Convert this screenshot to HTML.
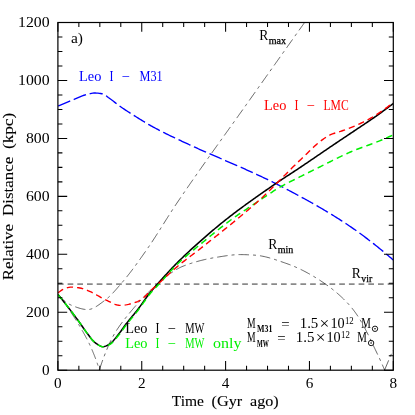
<!DOCTYPE html>
<html><head><meta charset="utf-8"><title>Leo I orbit</title>
<style>
html,body{margin:0;padding:0;background:#fff;}
svg{display:block;will-change:transform;}
.sans text{font-family:"Liberation Serif",serif;font-size:14px;fill:#000;}
.ser text{font-family:"Liberation Serif",serif;}
</style></head><body>
<svg width="415" height="415" viewBox="0 0 415 415">
<rect width="415" height="415" fill="#fff"/>
<defs><clipPath id="c"><rect x="57.9" y="22.5" width="335.40000000000003" height="347.7"/></clipPath></defs>
<g clip-path="url(#c)" fill="none">
<path d="M57.9 284.0 H393.3" stroke="#8a8a8a" stroke-width="1.75" stroke-dasharray="5.7 4"/>
<g stroke="#000" stroke-width="0.6" stroke-dasharray="10.5 4 3 4">
<path d="M58.00 294.50 L58.93 295.56 L59.87 296.59 L60.84 297.59 L61.83 298.56 L62.83 299.49 L63.86 300.39 L64.90 301.24 L65.96 302.04 L67.03 302.80 L68.12 303.51 L69.23 304.16 L70.36 304.75 L71.49 305.28 L72.65 305.77 L73.85 306.25 L75.09 306.72 L76.37 307.19 L77.67 307.64 L78.98 308.06 L80.31 308.45 L81.64 308.79 L82.96 309.09 L84.28 309.32 L85.57 309.49 L86.83 309.58 L88.07 309.59 L89.30 309.46 L90.52 309.18 L91.75 308.79 L92.97 308.29 L94.19 307.70 L95.39 307.03 L96.59 306.30 L97.77 305.52 L98.93 304.71 L100.07 303.88 L101.20 303.05 L102.30 302.24 L103.37 301.45 L104.42 300.70 L105.44 299.93 L106.45 299.12 L107.45 298.28 L108.43 297.41 L109.40 296.52 L110.35 295.60 L111.30 294.66 L112.23 293.70 L113.15 292.72 L114.06 291.73 L114.96 290.72 L115.86 289.71 L116.75 288.70 L117.63 287.68 L118.50 286.66 L119.38 285.65 L120.24 284.64 L121.11 283.64 L121.97 282.64 L122.83 281.64 L123.68 280.63 L124.52 279.62 L125.36 278.60 L126.20 277.58 L127.03 276.55 L127.85 275.51 L128.67 274.47 L129.49 273.43 L130.30 272.38 L131.11 271.33 L131.91 270.27 L132.71 269.21 L133.51 268.15 L134.30 267.09 L135.09 266.02 L135.88 264.95 L136.66 263.87 L137.44 262.80 L138.22 261.72 L138.99 260.64 L139.76 259.56 L140.53 258.48 L141.30 257.39 L142.07 256.31 L142.83 255.22 L143.60 254.14 L144.36 253.06 L145.12 251.97 L145.88 250.89 L146.64 249.80 L147.39 248.72 L148.14 247.63 L148.89 246.54 L149.63 245.44 L150.37 244.35 L151.11 243.25 L151.84 242.15 L152.57 241.04 L153.30 239.93 L154.02 238.82 L154.74 237.71 L155.46 236.60 L156.18 235.49 L156.89 234.37 L157.60 233.25 L158.31 232.14 L159.02 231.02 L159.73 229.90 L160.44 228.78 L161.15 227.65 L161.85 226.53 L162.56 225.41 L163.26 224.29 L163.97 223.16 L164.67 222.04 L165.38 220.92 L166.09 219.80 L166.80 218.68 L167.50 217.56 L168.21 216.44 L168.92 215.32 L169.64 214.20 L170.35 213.08 L171.07 211.97 L171.79 210.86 L172.51 209.74 L173.23 208.63 L173.96 207.53 L174.69 206.42 L175.42 205.32 L176.15 204.22 L176.89 203.12 L177.63 202.02 L178.37 200.92 L179.11 199.83 L179.86 198.73 L180.60 197.63 L181.34 196.54 L182.09 195.44 L182.83 194.35 L183.58 193.26 L184.33 192.16 L185.08 191.07 L185.83 189.98 L186.58 188.89 L187.33 187.80 L188.08 186.71 L188.83 185.62 L189.59 184.53 L190.34 183.44 L191.09 182.35 L191.85 181.27 L192.61 180.18 L193.36 179.09 L194.12 178.00 L194.88 176.92 L195.64 175.83 L196.40 174.75 L197.16 173.66 L197.92 172.58 L198.68 171.49 L199.44 170.41 L200.20 169.33 L200.96 168.24 L201.73 167.16 L202.49 166.08 L203.25 165.00 L204.02 163.92 L204.78 162.83 L205.55 161.75 L206.32 160.67 L207.08 159.59 L207.85 158.51 L208.62 157.43 L209.38 156.35 L210.15 155.27 L210.92 154.19 L211.69 153.11 L212.46 152.03 L213.22 150.95 L213.99 149.88 L214.76 148.80 L215.53 147.72 L216.30 146.64 L217.07 145.56 L217.84 144.48 L218.61 143.41 L219.38 142.33 L220.15 141.25 L220.93 140.17 L221.70 139.10 L222.47 138.02 L223.24 136.94 L224.01 135.86 L224.78 134.79 L225.55 133.71 L226.32 132.63 L227.10 131.55 L227.87 130.48 L228.64 129.40 L229.41 128.32 L230.18 127.25 L230.95 126.17 L231.72 125.09 L232.50 124.01 L233.27 122.94 L234.04 121.86 L234.81 120.78 L235.58 119.70 L236.35 118.62 L237.12 117.55 L237.89 116.47 L238.66 115.39 L239.43 114.31 L240.20 113.23 L240.97 112.15 L241.74 111.08 L242.50 110.00 L243.27 108.92 L244.04 107.84 L244.81 106.76 L245.57 105.68 L246.34 104.60 L247.11 103.52 L247.87 102.44 L248.64 101.36 L249.41 100.28 L250.17 99.19 L250.94 98.11 L251.70 97.03 L252.47 95.95 L253.23 94.87 L254.00 93.79 L254.76 92.71 L255.53 91.63 L256.29 90.54 L257.06 89.46 L257.82 88.38 L258.59 87.30 L259.35 86.22 L260.12 85.14 L260.88 84.06 L261.65 82.98 L262.42 81.90 L263.18 80.82 L263.95 79.74 L264.71 78.65 L265.48 77.57 L266.25 76.49 L267.01 75.41 L267.78 74.33 L268.54 73.25 L269.31 72.17 L270.08 71.09 L270.84 70.01 L271.61 68.93 L272.37 67.85 L273.14 66.77 L273.91 65.69 L274.67 64.61 L275.44 63.53 L276.21 62.45 L276.97 61.37 L277.74 60.29 L278.51 59.21 L279.27 58.13 L280.04 57.05 L280.81 55.97 L281.57 54.89 L282.34 53.81 L283.11 52.73 L283.88 51.65 L284.64 50.57 L285.41 49.49 L286.18 48.41 L286.94 47.33 L287.71 46.25 L288.48 45.17 L289.25 44.09 L290.01 43.01 L290.78 41.93 L291.55 40.85 L292.32 39.77 L293.08 38.69 L293.85 37.61 L294.62 36.53 L295.39 35.45 L296.15 34.37 L296.92 33.29 L297.69 32.21 L298.46 31.13 L299.22 30.05 L299.99 28.98 L300.76 27.90 L301.53 26.82 L302.30 25.74 L303.06 24.66 L303.83 23.58 L304.60 22.50"/>
<path d="M58.00 294.50 L58.18 294.73 L58.36 294.96 L58.54 295.19 L58.72 295.42 L58.90 295.64 L59.08 295.87 L59.26 296.10 L59.44 296.33 L59.62 296.56 L59.80 296.79 L59.98 297.02 L60.16 297.25 L60.33 297.49 L60.51 297.72 L60.69 297.95 L60.87 298.18 L61.04 298.41 L61.22 298.64 L61.39 298.87 L61.57 299.11 L61.75 299.34 L61.92 299.57 L62.10 299.80 L62.27 300.04 L62.44 300.27 L62.62 300.50 L62.79 300.74 L62.97 300.97 L63.14 301.20 L63.31 301.44 L63.48 301.67 L63.66 301.90 L63.83 302.14 L64.00 302.37 L64.17 302.61 L64.34 302.84 L64.51 303.08 L64.69 303.31 L64.86 303.55 L65.03 303.78 L65.20 304.02 L65.37 304.25 L65.53 304.49 L65.70 304.73 L65.87 304.96 L66.04 305.20 L66.21 305.44 L66.38 305.67 L66.55 305.91 L66.71 306.15 L66.88 306.38 L67.05 306.62 L67.21 306.86 L67.38 307.10 L67.55 307.33 L67.71 307.57 L67.88 307.81 L68.04 308.05 L68.21 308.29 L68.37 308.52 L68.54 308.76 L68.70 309.00 L68.87 309.24 L69.03 309.48 L69.19 309.72 L69.36 309.96 L69.52 310.20 L69.68 310.44 L69.85 310.68 L70.01 310.92 L70.17 311.16 L70.33 311.40 L70.49 311.64 L70.66 311.88 L70.82 312.12 L70.98 312.36 L71.14 312.60 L71.30 312.84 L71.46 313.08 L71.62 313.33 L71.78 313.57 L71.94 313.81 L72.10 314.05 L72.25 314.29 L72.41 314.54 L72.57 314.78 L72.73 315.02 L72.89 315.26 L73.05 315.51 L73.20 315.75 L73.36 315.99 L73.52 316.23 L73.67 316.48 L73.83 316.72 L73.99 316.96 L74.14 317.21 L74.30 317.45 L74.45 317.70 L74.61 317.94 L74.76 318.18 L74.92 318.43 L75.07 318.67 L75.23 318.92 L75.38 319.16 L75.53 319.41 L75.69 319.65 L75.84 319.89 L76.00 320.14 L76.15 320.38 L76.30 320.63 L76.45 320.88 L76.61 321.12 L76.76 321.37 L76.91 321.61 L77.06 321.86 L77.21 322.10 L77.36 322.35 L77.51 322.60 L77.67 322.84 L77.82 323.09 L77.97 323.34 L78.12 323.58 L78.27 323.83 L78.42 324.08 L78.56 324.32 L78.71 324.57 L78.86 324.82 L79.01 325.06 L79.16 325.31 L79.31 325.56 L79.46 325.81 L79.60 326.05 L79.75 326.30 L79.90 326.55 L80.05 326.80 L80.19 327.05 L80.34 327.29 L80.49 327.54 L80.63 327.79 L80.78 328.04 L80.92 328.29 L81.07 328.54 L81.22 328.79 L81.36 329.03 L81.51 329.28 L81.65 329.53 L81.80 329.78 L81.94 330.03 L82.09 330.28 L82.23 330.53 L82.37 330.78 L82.52 331.03 L82.66 331.28 L82.80 331.53 L82.95 331.78 L83.09 332.03 L83.23 332.28 L83.38 332.53 L83.52 332.78 L83.66 333.04 L83.80 333.29 L83.94 333.54 L84.09 333.79 L84.23 334.04 L84.37 334.30 L84.51 334.55 L84.65 334.80 L84.79 335.06 L84.93 335.31 L85.07 335.57 L85.21 335.82 L85.35 336.07 L85.49 336.33 L85.63 336.58 L85.76 336.84 L85.90 337.09 L86.04 337.35 L86.18 337.61 L86.31 337.86 L86.45 338.12 L86.58 338.38 L86.72 338.63 L86.86 338.89 L86.99 339.15 L87.12 339.40 L87.26 339.66 L87.39 339.92 L87.52 340.18 L87.66 340.44 L87.79 340.70 L87.92 340.95 L88.05 341.21 L88.18 341.47 L88.31 341.73 L88.44 341.99 L88.57 342.25 L88.70 342.51 L88.83 342.77 L88.95 343.03 L89.08 343.29 L89.21 343.55 L89.33 343.81 L89.46 344.08 L89.58 344.34 L89.71 344.60 L89.83 344.86 L89.95 345.12 L90.07 345.38 L90.19 345.65 L90.32 345.91 L90.44 346.17 L90.56 346.43 L90.67 346.70 L90.79 346.96 L90.91 347.22 L91.03 347.49 L91.14 347.75 L91.26 348.02 L91.37 348.28 L91.49 348.54 L91.60 348.81 L91.71 349.07 L91.83 349.34 L91.94 349.60 L92.05 349.87 L92.17 350.13 L92.28 350.40 L92.39 350.66 L92.50 350.93 L92.61 351.20 L92.73 351.46 L92.84 351.73 L92.95 351.99 L93.06 352.26 L93.17 352.53 L93.28 352.80 L93.39 353.06 L93.49 353.33 L93.60 353.60 L93.71 353.87 L93.82 354.13 L93.93 354.40 L94.03 354.67 L94.14 354.94 L94.25 355.21 L94.35 355.48 L94.46 355.75 L94.57 356.02 L94.67 356.28 L94.78 356.55 L94.88 356.82 L94.98 357.09 L95.09 357.36 L95.19 357.63 L95.29 357.91 L95.40 358.18 L95.50 358.45 L95.60 358.72 L95.70 358.99 L95.80 359.26 L95.90 359.53 L96.00 359.80 L96.10 360.08 L96.20 360.35 L96.30 360.62 L96.40 360.89 L96.50 361.17 L96.60 361.44 L96.69 361.71 L96.79 361.99 L96.89 362.26 L96.98 362.53 L97.08 362.81 L97.17 363.08 L97.27 363.36 L97.36 363.63 L97.46 363.91 L97.55 364.18 L97.64 364.46 L97.73 364.73 L97.83 365.01 L97.92 365.28 L98.01 365.56 L98.10 365.83 L98.19 366.11 L98.28 366.39 L98.37 366.66 L98.46 366.94 L98.55 367.22 L98.63 367.50 L98.72 367.77 L98.81 368.05 L98.89 368.33 L98.98 368.61 L99.06 368.88 L99.15 369.16 L99.23 369.44 L99.32 369.72 L99.40 370.00"/>
<path d="M99.40 370.00 L99.79 368.74 L100.18 367.49 L100.59 366.24 L101.00 364.99 L101.42 363.74 L101.85 362.50 L102.29 361.27 L102.74 360.03 L103.19 358.80 L103.65 357.57 L104.12 356.35 L104.59 355.13 L105.07 353.91 L105.55 352.69 L106.04 351.48 L106.54 350.27 L107.04 349.06 L107.55 347.85 L108.07 346.65 L108.59 345.44 L109.13 344.23 L109.67 343.03 L110.23 341.84 L110.79 340.65 L111.37 339.47 L111.97 338.30 L112.57 337.14 L113.19 336.00 L113.83 334.86 L114.48 333.74 L115.15 332.63 L115.83 331.52 L116.53 330.41 L117.25 329.32 L117.98 328.23 L118.72 327.14 L119.48 326.06 L120.24 324.99 L121.02 323.92 L121.80 322.86 L122.59 321.80 L123.39 320.75 L124.20 319.70 L125.01 318.67 L125.83 317.63 L126.65 316.60 L127.48 315.58 L128.30 314.56 L129.13 313.55 L129.96 312.55 L130.79 311.54 L131.63 310.54 L132.47 309.54 L133.32 308.54 L134.17 307.54 L135.03 306.55 L135.90 305.56 L136.77 304.57 L137.64 303.58 L138.53 302.60 L139.41 301.62 L140.30 300.65 L141.20 299.68 L142.10 298.71 L143.01 297.75 L143.92 296.80 L144.84 295.85 L145.77 294.91 L146.70 293.97 L147.63 293.04 L148.57 292.12 L149.51 291.21 L150.46 290.30 L151.42 289.40 L152.38 288.51 L153.34 287.63 L154.31 286.76 L155.29 285.90 L156.27 285.05 L157.25 284.21 L158.24 283.37 L159.24 282.53 L160.25 281.68 L161.26 280.82 L162.28 279.96 L163.30 279.11 L164.34 278.25 L165.38 277.40 L166.43 276.56 L167.48 275.72 L168.55 274.90 L169.62 274.09 L170.69 273.29 L171.78 272.52 L172.87 271.76 L173.97 271.03 L175.08 270.32 L176.19 269.64 L177.31 268.98 L178.44 268.36 L179.58 267.77 L180.72 267.22 L181.87 266.70 L183.03 266.23 L184.20 265.76 L185.39 265.31 L186.59 264.87 L187.80 264.44 L189.02 264.01 L190.25 263.60 L191.49 263.19 L192.74 262.80 L194.00 262.41 L195.26 262.04 L196.54 261.67 L197.82 261.32 L199.10 260.97 L200.39 260.63 L201.68 260.31 L202.98 259.99 L204.28 259.68 L205.58 259.38 L206.89 259.10 L208.19 258.82 L209.50 258.55 L210.80 258.30 L212.10 258.05 L213.41 257.81 L214.70 257.59 L216.00 257.37 L217.29 257.16 L218.58 256.96 L219.87 256.76 L221.16 256.56 L222.45 256.36 L223.75 256.15 L225.05 255.96 L226.36 255.76 L227.66 255.58 L228.97 255.41 L230.27 255.24 L231.58 255.10 L232.89 254.96 L234.20 254.85 L235.51 254.75 L236.82 254.68 L238.13 254.63 L239.43 254.60 L240.74 254.60 L242.05 254.61 L243.37 254.64 L244.68 254.67 L246.00 254.71 L247.32 254.76 L248.63 254.82 L249.94 254.88 L251.25 254.95 L252.55 255.02 L253.85 255.09 L255.14 255.18 L256.43 255.29 L257.73 255.44 L259.02 255.61 L260.31 255.81 L261.60 256.04 L262.89 256.29 L264.18 256.56 L265.47 256.85 L266.76 257.16 L268.04 257.49 L269.32 257.84 L270.60 258.20 L271.88 258.57 L273.15 258.96 L274.42 259.36 L275.69 259.77 L276.95 260.18 L278.21 260.60 L279.46 261.03 L280.71 261.47 L281.95 261.90 L283.19 262.34 L284.42 262.77 L285.65 263.21 L286.86 263.64 L288.08 264.07 L289.29 264.51 L290.50 264.97 L291.71 265.44 L292.92 265.93 L294.13 266.43 L295.34 266.94 L296.54 267.47 L297.75 268.01 L298.94 268.57 L300.14 269.14 L301.34 269.71 L302.53 270.30 L303.71 270.90 L304.89 271.52 L306.07 272.14 L307.24 272.77 L308.41 273.41 L309.57 274.06 L310.73 274.71 L311.88 275.38 L313.03 276.05 L314.16 276.73 L315.29 277.42 L316.42 278.11 L317.53 278.81 L318.64 279.52 L319.74 280.23 L320.83 280.94 L321.92 281.66 L322.99 282.38 L324.06 283.11 L325.11 283.84 L326.16 284.57 L327.21 285.33 L328.26 286.09 L329.31 286.87 L330.36 287.66 L331.41 288.46 L332.45 289.28 L333.49 290.10 L334.53 290.94 L335.56 291.79 L336.58 292.65 L337.60 293.52 L338.61 294.41 L339.61 295.30 L340.60 296.20 L341.59 297.11 L342.56 298.03 L343.52 298.95 L344.47 299.89 L345.40 300.83 L346.33 301.78 L347.24 302.74 L348.13 303.70 L349.01 304.67 L349.87 305.65 L350.71 306.63 L351.54 307.61 L352.35 308.60 L353.13 309.60 L353.90 310.60 L354.66 311.61 L355.40 312.64 L356.13 313.68 L356.86 314.73 L357.57 315.79 L358.27 316.87 L358.96 317.96 L359.64 319.06 L360.32 320.17 L360.98 321.29 L361.64 322.42 L362.29 323.56 L362.94 324.70 L363.57 325.85 L364.20 327.01 L364.82 328.18 L365.44 329.35 L366.05 330.53 L366.65 331.72 L367.25 332.90 L367.85 334.10 L368.44 335.29 L369.03 336.49 L369.61 337.69 L370.19 338.89 L370.77 340.10 L371.35 341.30 L371.92 342.51 L372.49 343.71 L373.06 344.91 L373.63 346.12 L374.20 347.32 L374.77 348.51 L375.34 349.71 L375.91 350.90 L376.48 352.09 L377.05 353.27 L377.62 354.45 L378.18 355.63 L378.74 356.81 L379.30 358.00 L379.85 359.19 L380.39 360.38 L380.93 361.58 L381.46 362.78 L381.99 363.98 L382.52 365.18 L383.04 366.38 L383.57 367.59 L384.08 368.79 L384.60 370.00"/>
<path d="M384.60 370.00 L393.00 350.00"/>
</g>
<path d="M58.00 106.00 L59.18 105.51 L60.36 105.01 L61.55 104.52 L62.73 104.03 L63.91 103.54 L65.10 103.05 L66.28 102.56 L67.47 102.07 L68.65 101.59 L69.84 101.10 L71.02 100.62 L72.21 100.13 L73.40 99.65 L74.58 99.17 L75.77 98.68 L76.95 98.17 L78.13 97.65 L79.31 97.12 L80.49 96.61 L81.68 96.12 L82.87 95.67 L84.08 95.27 L85.30 94.92 L86.53 94.58 L87.78 94.23 L89.03 93.90 L90.29 93.60 L91.56 93.34 L92.83 93.14 L94.09 93.03 L95.36 93.00 L96.65 93.05 L97.96 93.16 L99.26 93.32 L100.55 93.51 L101.80 93.74 L102.99 94.00 L104.12 94.40 L105.21 95.03 L106.26 95.81 L107.30 96.66 L108.33 97.51 L109.38 98.27 L110.42 99.02 L111.45 99.78 L112.47 100.55 L113.49 101.33 L114.50 102.12 L115.51 102.90 L116.53 103.69 L117.55 104.47 L118.57 105.24 L119.60 106.00 L120.64 106.75 L121.69 107.48 L122.74 108.20 L123.80 108.92 L124.86 109.63 L125.93 110.34 L127.00 111.05 L128.08 111.75 L129.15 112.44 L130.23 113.13 L131.32 113.82 L132.40 114.50 L133.49 115.19 L134.57 115.87 L135.66 116.55 L136.75 117.22 L137.84 117.90 L138.92 118.57 L140.01 119.25 L141.10 119.93 L142.19 120.60 L143.29 121.27 L144.38 121.94 L145.48 122.60 L146.58 123.26 L147.68 123.92 L148.79 124.56 L149.90 125.20 L151.01 125.83 L152.13 126.45 L153.25 127.06 L154.38 127.67 L155.50 128.27 L156.63 128.87 L157.76 129.46 L158.90 130.06 L160.04 130.64 L161.18 131.23 L162.32 131.81 L163.46 132.38 L164.61 132.96 L165.75 133.53 L166.90 134.10 L168.05 134.66 L169.20 135.23 L170.36 135.79 L171.51 136.34 L172.67 136.90 L173.82 137.45 L174.98 138.00 L176.14 138.55 L177.30 139.10 L178.46 139.64 L179.63 140.19 L180.79 140.73 L181.95 141.27 L183.12 141.81 L184.28 142.35 L185.45 142.89 L186.61 143.42 L187.78 143.96 L188.94 144.49 L190.11 145.03 L191.27 145.56 L192.44 146.10 L193.60 146.63 L194.77 147.16 L195.93 147.70 L197.10 148.23 L198.26 148.75 L199.43 149.27 L200.61 149.79 L201.78 150.31 L202.95 150.82 L204.13 151.33 L205.30 151.84 L206.48 152.35 L207.65 152.86 L208.83 153.38 L210.00 153.89 L211.18 154.40 L212.35 154.92 L213.52 155.43 L214.70 155.94 L215.87 156.46 L217.05 156.97 L218.22 157.48 L219.40 157.99 L220.57 158.50 L221.75 159.01 L222.93 159.51 L224.10 160.02 L225.28 160.53 L226.45 161.04 L227.63 161.55 L228.81 162.06 L229.98 162.56 L231.16 163.07 L232.34 163.58 L233.51 164.09 L234.69 164.60 L235.86 165.11 L237.04 165.62 L238.21 166.14 L239.38 166.65 L240.56 167.17 L241.73 167.68 L242.90 168.20 L244.07 168.72 L245.24 169.24 L246.41 169.76 L247.58 170.28 L248.75 170.81 L249.92 171.34 L251.08 171.87 L252.25 172.40 L253.41 172.93 L254.58 173.47 L255.74 174.00 L256.90 174.54 L258.07 175.08 L259.23 175.62 L260.39 176.16 L261.55 176.70 L262.71 177.25 L263.87 177.80 L265.03 178.34 L266.19 178.90 L267.34 179.45 L268.50 180.01 L269.65 180.57 L270.80 181.13 L271.95 181.70 L273.09 182.27 L274.24 182.85 L275.38 183.43 L276.52 184.01 L277.65 184.60 L278.79 185.18 L279.93 185.77 L281.07 186.36 L282.20 186.95 L283.34 187.54 L284.48 188.13 L285.61 188.73 L286.75 189.32 L287.89 189.92 L289.02 190.52 L290.16 191.11 L291.29 191.71 L292.43 192.32 L293.56 192.92 L294.70 193.52 L295.83 194.13 L296.96 194.74 L298.09 195.34 L299.22 195.96 L300.36 196.57 L301.48 197.18 L302.61 197.80 L303.74 198.41 L304.87 199.03 L305.99 199.65 L307.12 200.27 L308.24 200.90 L309.37 201.52 L310.49 202.15 L311.61 202.78 L312.73 203.41 L313.85 204.04 L314.96 204.68 L316.08 205.31 L317.19 205.95 L318.31 206.59 L319.42 207.24 L320.53 207.88 L321.63 208.53 L322.74 209.18 L323.85 209.83 L324.95 210.48 L326.05 211.14 L327.15 211.80 L328.25 212.46 L329.34 213.12 L330.44 213.79 L331.53 214.45 L332.62 215.12 L333.71 215.80 L334.79 216.47 L335.88 217.15 L336.96 217.83 L338.04 218.51 L339.12 219.19 L340.19 219.88 L341.26 220.57 L342.34 221.26 L343.40 221.96 L344.47 222.66 L345.53 223.36 L346.59 224.06 L347.65 224.77 L348.71 225.48 L349.76 226.19 L350.81 226.91 L351.86 227.63 L352.91 228.36 L353.96 229.09 L355.00 229.82 L356.04 230.56 L357.08 231.30 L358.12 232.05 L359.16 232.79 L360.19 233.55 L361.22 234.30 L362.25 235.06 L363.28 235.82 L364.31 236.58 L365.34 237.35 L366.36 238.12 L367.38 238.90 L368.40 239.67 L369.42 240.46 L370.43 241.24 L371.45 242.03 L372.46 242.81 L373.47 243.61 L374.48 244.40 L375.48 245.20 L376.49 246.00 L377.49 246.80 L378.49 247.61 L379.49 248.42 L380.49 249.23 L381.48 250.05 L382.48 250.86 L383.47 251.68 L384.46 252.50 L385.45 253.33 L386.44 254.15 L387.42 254.98 L388.41 255.81 L389.39 256.65 L390.37 257.48 L391.35 258.32 L392.32 259.16 L393.30 260.00" stroke="#0000ff" stroke-width="1.35" stroke-dasharray="13.2 3.8"/>
<path d="M58.00 294.50 L58.95 295.67 L59.91 296.84 L60.86 298.02 L61.80 299.20 L62.74 300.37 L63.68 301.56 L64.62 302.74 L65.56 303.93 L66.49 305.12 L67.41 306.31 L68.34 307.50 L69.26 308.70 L70.18 309.89 L71.09 311.10 L72.01 312.30 L72.92 313.50 L73.82 314.71 L74.73 315.92 L75.63 317.13 L76.53 318.35 L77.42 319.56 L78.31 320.78 L79.20 322.00 L80.09 323.22 L80.96 324.45 L81.82 325.70 L82.68 326.95 L83.53 328.20 L84.38 329.44 L85.24 330.68 L86.12 331.91 L87.02 333.12 L87.94 334.32 L88.86 335.55 L89.78 336.79 L90.72 338.02 L91.68 339.22 L92.68 340.36 L93.72 341.42 L94.82 342.36 L96.00 343.26 L97.28 344.20 L98.63 345.10 L100.03 345.87 L101.43 346.43 L102.82 346.69 L104.22 346.58 L105.66 346.14 L107.11 345.47 L108.51 344.68 L109.79 343.88 L110.96 343.06 L112.06 342.10 L113.11 341.01 L114.12 339.85 L115.10 338.63 L116.06 337.40 L117.02 336.19 L117.97 335.02 L118.90 333.84 L119.81 332.64 L120.70 331.42 L121.58 330.19 L122.46 328.96 L123.33 327.72 L124.21 326.49 L125.10 325.27 L126.01 324.06 L126.93 322.87 L127.87 321.69 L128.82 320.51 L129.78 319.34 L130.74 318.18 L131.70 317.01 L132.66 315.85 L133.63 314.69 L134.59 313.52 L135.54 312.35 L136.48 311.17 L137.41 309.98 L138.32 308.78 L139.23 307.57 L140.12 306.35 L141.00 305.12 L141.87 303.89 L142.74 302.65 L143.61 301.41 L144.48 300.17 L145.35 298.94 L146.23 297.71 L147.11 296.49 L148.01 295.28 L148.92 294.08 L149.85 292.89 L150.80 291.72 L151.76 290.55 L152.74 289.40 L153.73 288.26 L154.72 287.12 L155.72 285.99 L156.73 284.86 L157.73 283.74 L158.74 282.61 L159.75 281.49 L160.75 280.36 L161.77 279.24 L162.78 278.12 L163.79 277.00 L164.81 275.88 L165.83 274.76 L166.85 273.65 L167.88 272.54 L168.91 271.44 L169.94 270.33 L170.98 269.23 L172.02 268.14 L173.06 267.05 L174.11 265.96 L175.16 264.88 L176.21 263.80 L177.27 262.73 L178.34 261.66 L179.41 260.60 L180.48 259.54 L181.56 258.49 L182.65 257.44 L183.74 256.39 L184.83 255.35 L185.93 254.31 L187.03 253.27 L188.13 252.24 L189.24 251.21 L190.35 250.19 L191.46 249.17 L192.58 248.15 L193.70 247.13 L194.82 246.12 L195.94 245.11 L197.07 244.10 L198.19 243.09 L199.32 242.09 L200.45 241.09 L201.58 240.09 L202.71 239.09 L203.85 238.10 L204.99 237.11 L206.13 236.11 L207.27 235.12 L208.41 234.14 L209.56 233.15 L210.71 232.17 L211.86 231.19 L213.01 230.21 L214.17 229.24 L215.32 228.27 L216.48 227.30 L217.65 226.33 L218.81 225.37 L219.98 224.42 L221.15 223.46 L222.32 222.51 L223.50 221.56 L224.68 220.62 L225.86 219.68 L227.04 218.75 L228.23 217.82 L229.42 216.89 L230.61 215.97 L231.81 215.05 L233.00 214.13 L234.20 213.22 L235.40 212.31 L236.61 211.40 L237.82 210.49 L239.03 209.59 L240.24 208.69 L241.45 207.79 L242.67 206.89 L243.88 206.00 L245.10 205.11 L246.32 204.22 L247.55 203.33 L248.77 202.45 L250.00 201.56 L251.23 200.68 L252.46 199.80 L253.69 198.93 L254.92 198.05 L256.15 197.18 L257.39 196.31 L258.62 195.44 L259.86 194.57 L261.10 193.70 L262.34 192.84 L263.58 191.97 L264.82 191.11 L266.06 190.25 L267.30 189.39 L268.54 188.53 L269.79 187.67 L271.03 186.81 L272.27 185.96 L273.52 185.10 L274.76 184.25 L276.01 183.39 L277.25 182.54 L278.51 181.70 L279.76 180.86 L281.02 180.02 L282.28 179.19 L283.54 178.36 L284.80 177.54 L286.07 176.71 L287.33 175.89 L288.60 175.06 L289.87 174.24 L291.13 173.42 L292.40 172.59 L293.66 171.77 L294.92 170.94 L296.18 170.11 L297.44 169.27 L298.70 168.43 L299.95 167.59 L301.21 166.75 L302.46 165.91 L303.71 165.07 L304.96 164.22 L306.21 163.37 L307.46 162.53 L308.71 161.68 L309.96 160.83 L311.21 159.98 L312.46 159.13 L313.71 158.28 L314.95 157.43 L316.20 156.58 L317.45 155.73 L318.70 154.88 L319.94 154.03 L321.19 153.18 L322.44 152.33 L323.69 151.48 L324.93 150.63 L326.18 149.78 L327.43 148.93 L328.68 148.08 L329.93 147.23 L331.18 146.38 L332.43 145.54 L333.68 144.69 L334.93 143.85 L336.18 143.00 L337.44 142.16 L338.69 141.32 L339.95 140.48 L341.20 139.64 L342.46 138.80 L343.71 137.96 L344.97 137.12 L346.22 136.28 L347.48 135.44 L348.73 134.60 L349.99 133.76 L351.24 132.92 L352.50 132.08 L353.75 131.24 L355.00 130.40 L356.26 129.56 L357.51 128.72 L358.77 127.88 L360.02 127.04 L361.28 126.20 L362.54 125.37 L363.80 124.53 L365.05 123.69 L366.31 122.85 L367.56 122.01 L368.81 121.16 L370.06 120.31 L371.31 119.46 L372.55 118.61 L373.79 117.75 L375.03 116.88 L376.26 116.01 L377.49 115.14 L378.72 114.26 L379.95 113.38 L381.17 112.50 L382.39 111.61 L383.61 110.72 L384.83 109.83 L386.05 108.94 L387.26 108.04 L388.47 107.14 L389.68 106.23 L390.89 105.32 L392.10 104.41 L393.30 103.50" stroke="#000" stroke-width="1.55"/>
<path d="M58.00 294.50 L58.92 295.63 L59.84 296.76 L60.75 297.89 L61.66 299.02 L62.57 300.16 L63.48 301.30 L64.38 302.44 L65.28 303.58 L66.18 304.73 L67.08 305.87 L67.97 307.02 L68.86 308.17 L69.74 309.33 L70.63 310.48 L71.51 311.64 L72.39 312.80 L73.26 313.96 L74.13 315.13 L75.01 316.29 L75.87 317.46 L76.74 318.63 L77.60 319.81 L78.46 320.98 L79.32 322.16 L80.17 323.33 L81.01 324.52 L81.84 325.72 L82.66 326.92 L83.48 328.13 L84.30 329.33 L85.13 330.53 L85.98 331.71 L86.84 332.88 L87.72 334.03 L88.61 335.21 L89.49 336.40 L90.39 337.59 L91.31 338.76 L92.26 339.88 L93.24 340.94 L94.27 341.91 L95.36 342.78 L96.54 343.68 L97.79 344.60 L99.10 345.45 L100.44 346.15 L101.79 346.63 L103.13 346.80 L104.50 346.64 L105.92 346.24 L107.34 345.66 L108.72 344.98 L109.99 344.28 L111.14 343.55 L112.23 342.68 L113.27 341.68 L114.27 340.58 L115.24 339.42 L116.19 338.24 L117.12 337.07 L118.05 335.94 L118.97 334.82 L119.87 333.67 L120.74 332.51 L121.60 331.34 L122.45 330.16 L123.30 328.97 L124.15 327.78 L125.00 326.60 L125.87 325.43 L126.75 324.27 L127.64 323.12 L128.55 321.99 L129.47 320.86 L130.39 319.73 L131.32 318.61 L132.24 317.49 L133.17 316.36 L134.10 315.24 L135.02 314.12 L135.94 312.99 L136.85 311.85 L137.75 310.71 L138.64 309.56 L139.51 308.39 L140.37 307.22 L141.21 306.03 L142.05 304.84 L142.88 303.64 L143.71 302.44 L144.55 301.24 L145.38 300.05 L146.22 298.86 L147.07 297.67 L147.93 296.50 L148.81 295.35 L149.70 294.20 L150.62 293.08 L151.56 291.98 L152.52 290.90 L153.51 289.83 L154.51 288.77 L155.52 287.72 L156.53 286.66 L157.53 285.61 L158.52 284.54 L159.51 283.47 L160.49 282.39 L161.46 281.31 L162.44 280.22 L163.41 279.13 L164.38 278.05 L165.35 276.96 L166.32 275.87 L167.29 274.78 L168.27 273.70 L169.24 272.62 L170.22 271.54 L171.21 270.47 L172.20 269.41 L173.20 268.35 L174.20 267.30 L175.22 266.26 L176.24 265.23 L177.27 264.21 L178.31 263.20 L179.36 262.21 L180.42 261.22 L181.49 260.24 L182.57 259.26 L183.65 258.30 L184.75 257.34 L185.85 256.38 L186.95 255.43 L188.06 254.49 L189.17 253.55 L190.29 252.61 L191.41 251.68 L192.54 250.75 L193.66 249.82 L194.79 248.89 L195.91 247.97 L197.04 247.04 L198.16 246.12 L199.28 245.19 L200.41 244.26 L201.53 243.34 L202.65 242.41 L203.77 241.48 L204.89 240.55 L206.01 239.63 L207.14 238.70 L208.26 237.77 L209.38 236.85 L210.51 235.93 L211.64 235.00 L212.77 234.08 L213.90 233.16 L215.03 232.25 L216.16 231.33 L217.30 230.42 L218.44 229.51 L219.58 228.61 L220.72 227.70 L221.86 226.80 L223.01 225.91 L224.16 225.01 L225.31 224.13 L226.47 223.24 L227.62 222.36 L228.78 221.49 L229.95 220.61 L231.11 219.75 L232.28 218.89 L233.46 218.03 L234.63 217.18 L235.82 216.34 L237.01 215.51 L238.21 214.68 L239.41 213.86 L240.61 213.04 L241.82 212.23 L243.03 211.42 L244.24 210.62 L245.46 209.82 L246.68 209.01 L247.89 208.21 L249.11 207.41 L250.32 206.61 L251.54 205.81 L252.75 205.00 L253.96 204.19 L255.17 203.38 L256.37 202.56 L257.58 201.74 L258.78 200.92 L259.99 200.10 L261.19 199.28 L262.40 198.46 L263.61 197.65 L264.81 196.83 L266.02 196.01 L267.23 195.20 L268.45 194.40 L269.66 193.60 L270.88 192.80 L272.10 192.01 L273.33 191.23 L274.56 190.45 L275.79 189.68 L277.03 188.92 L278.27 188.17 L279.52 187.43 L280.77 186.70 L282.03 185.99 L283.30 185.28 L284.58 184.59 L285.86 183.91 L287.15 183.24 L288.45 182.58 L289.75 181.92 L291.05 181.27 L292.36 180.62 L293.66 179.97 L294.97 179.32 L296.27 178.67 L297.57 178.02 L298.87 177.36 L300.17 176.70 L301.47 176.05 L302.77 175.39 L304.07 174.74 L305.37 174.09 L306.67 173.43 L307.97 172.78 L309.27 172.13 L310.57 171.49 L311.88 170.84 L313.18 170.20 L314.49 169.55 L315.79 168.91 L317.10 168.26 L318.40 167.61 L319.70 166.96 L321.00 166.31 L322.31 165.66 L323.61 165.00 L324.91 164.35 L326.21 163.69 L327.51 163.03 L328.81 162.38 L330.11 161.72 L331.42 161.07 L332.72 160.42 L334.02 159.77 L335.33 159.12 L336.64 158.48 L337.94 157.84 L339.25 157.20 L340.57 156.57 L341.88 155.94 L343.19 155.32 L344.51 154.71 L345.83 154.10 L347.15 153.49 L348.48 152.89 L349.80 152.30 L351.13 151.72 L352.47 151.15 L353.80 150.58 L355.14 150.03 L356.49 149.49 L357.84 148.96 L359.20 148.44 L360.56 147.93 L361.93 147.43 L363.30 146.93 L364.67 146.44 L366.04 145.95 L367.41 145.46 L368.78 144.97 L370.15 144.47 L371.52 143.97 L372.89 143.47 L374.25 142.96 L375.61 142.44 L376.97 141.91 L378.32 141.37 L379.66 140.82 L381.01 140.26 L382.35 139.70 L383.69 139.13 L385.02 138.56 L386.36 137.97 L387.69 137.39 L389.02 136.80 L390.35 136.20 L391.67 135.60 L393.00 135.00" stroke="#00f000" stroke-width="1.5" stroke-dasharray="6.5 4.2"/>
<path d="M58.00 293.00 L59.07 292.06 L60.18 291.19 L61.32 290.40 L62.50 289.70 L63.71 289.12 L64.95 288.62 L66.26 288.12 L67.59 287.67 L68.95 287.33 L70.31 287.13 L71.67 287.11 L73.03 287.16 L74.41 287.27 L75.80 287.41 L77.18 287.59 L78.55 287.78 L79.90 287.98 L81.23 288.24 L82.55 288.58 L83.86 289.00 L85.17 289.48 L86.46 290.00 L87.75 290.54 L89.02 291.08 L90.28 291.62 L91.53 292.18 L92.76 292.79 L93.97 293.43 L95.18 294.10 L96.38 294.79 L97.57 295.49 L98.77 296.19 L99.97 296.88 L101.17 297.56 L102.38 298.22 L103.61 298.84 L104.84 299.43 L106.10 300.01 L107.36 300.63 L108.62 301.28 L109.90 301.93 L111.17 302.58 L112.46 303.20 L113.75 303.78 L115.05 304.29 L116.35 304.73 L117.65 305.07 L118.96 305.30 L120.27 305.40 L121.60 305.38 L122.95 305.28 L124.33 305.13 L125.72 304.92 L127.12 304.66 L128.51 304.36 L129.90 304.02 L131.28 303.65 L132.63 303.26 L133.95 302.85 L135.23 302.42 L136.47 301.99 L137.66 301.54 L138.82 301.00 L139.95 300.37 L141.06 299.65 L142.14 298.85 L143.21 297.99 L144.26 297.08 L145.30 296.12 L146.33 295.13 L147.35 294.12 L148.36 293.09 L149.37 292.06 L150.38 291.03 L151.40 290.02 L152.42 289.03 L153.45 288.09 L154.49 287.18 L155.52 286.27 L156.55 285.36 L157.58 284.44 L158.60 283.52 L159.62 282.59 L160.64 281.66 L161.65 280.73 L162.66 279.80 L163.67 278.86 L164.68 277.92 L165.69 276.99 L166.71 276.05 L167.72 275.12 L168.73 274.18 L169.75 273.25 L170.77 272.33 L171.79 271.40 L172.81 270.49 L173.84 269.57 L174.88 268.67 L175.91 267.77 L176.96 266.87 L178.01 265.99 L179.07 265.11 L180.13 264.24 L181.21 263.38 L182.28 262.52 L183.36 261.67 L184.45 260.83 L185.53 259.98 L186.62 259.14 L187.72 258.31 L188.81 257.47 L189.91 256.64 L191.01 255.80 L192.11 254.97 L193.20 254.14 L194.30 253.31 L195.40 252.47 L196.49 251.63 L197.58 250.79 L198.67 249.95 L199.75 249.10 L200.83 248.24 L201.91 247.39 L202.99 246.54 L204.07 245.69 L205.16 244.84 L206.24 243.98 L207.32 243.13 L208.40 242.28 L209.48 241.42 L210.56 240.57 L211.64 239.72 L212.72 238.86 L213.80 238.01 L214.88 237.15 L215.96 236.30 L217.04 235.44 L218.11 234.58 L219.19 233.73 L220.27 232.87 L221.34 232.01 L222.42 231.15 L223.49 230.28 L224.56 229.42 L225.63 228.56 L226.70 227.69 L227.77 226.83 L228.84 225.96 L229.91 225.09 L230.98 224.22 L232.04 223.35 L233.10 222.47 L234.17 221.60 L235.23 220.72 L236.29 219.84 L237.34 218.96 L238.40 218.08 L239.46 217.20 L240.51 216.32 L241.57 215.43 L242.62 214.55 L243.68 213.66 L244.73 212.78 L245.79 211.89 L246.84 211.00 L247.89 210.11 L248.94 209.22 L249.99 208.33 L251.04 207.43 L252.09 206.54 L253.13 205.64 L254.17 204.73 L255.21 203.83 L256.24 202.92 L257.28 202.01 L258.31 201.10 L259.33 200.18 L260.36 199.26 L261.38 198.34 L262.39 197.41 L263.41 196.48 L264.41 195.55 L265.42 194.61 L266.41 193.66 L267.40 192.71 L268.39 191.75 L269.37 190.78 L270.34 189.81 L271.32 188.84 L272.28 187.86 L273.25 186.88 L274.22 185.89 L275.18 184.91 L276.14 183.92 L277.11 182.94 L278.07 181.96 L279.04 180.98 L280.01 180.00 L280.98 179.02 L281.95 178.05 L282.92 177.07 L283.89 176.10 L284.86 175.12 L285.83 174.14 L286.80 173.16 L287.77 172.19 L288.74 171.21 L289.72 170.24 L290.69 169.26 L291.66 168.29 L292.64 167.32 L293.62 166.36 L294.60 165.39 L295.59 164.43 L296.58 163.48 L297.58 162.53 L298.57 161.58 L299.57 160.63 L300.57 159.68 L301.57 158.73 L302.57 157.79 L303.57 156.84 L304.56 155.89 L305.56 154.94 L306.55 153.98 L307.53 153.01 L308.51 152.04 L309.48 151.07 L310.46 150.10 L311.44 149.13 L312.43 148.17 L313.43 147.23 L314.44 146.30 L315.47 145.39 L316.50 144.48 L317.55 143.58 L318.60 142.68 L319.67 141.81 L320.75 140.95 L321.85 140.12 L322.96 139.33 L324.09 138.54 L325.24 137.77 L326.40 137.01 L327.58 136.28 L328.78 135.59 L330.00 134.97 L331.24 134.41 L332.50 133.92 L333.79 133.46 L335.10 133.04 L336.43 132.64 L337.76 132.25 L339.09 131.85 L340.41 131.44 L341.72 130.99 L343.01 130.53 L344.31 130.07 L345.60 129.60 L346.90 129.12 L348.19 128.64 L349.47 128.14 L350.75 127.64 L352.03 127.13 L353.31 126.61 L354.57 126.08 L355.84 125.54 L357.10 124.99 L358.35 124.42 L359.60 123.84 L360.85 123.25 L362.09 122.65 L363.33 122.04 L364.56 121.43 L365.78 120.80 L367.00 120.16 L368.21 119.51 L369.42 118.85 L370.63 118.18 L371.82 117.49 L373.01 116.80 L374.19 116.09 L375.36 115.38 L376.52 114.64 L377.68 113.89 L378.82 113.12 L379.96 112.34 L381.09 111.56 L382.22 110.76 L383.34 109.97 L384.46 109.17 L385.58 108.37 L386.70 107.56 L387.81 106.75 L388.91 105.93 L390.02 105.11 L391.12 104.28 L392.21 103.44 L393.30 102.60" stroke="#ff0000" stroke-width="1.4" stroke-dasharray="6.3 4"/>
</g>
<rect x="57.9" y="22.5" width="335.40000000000003" height="347.7" fill="none" stroke="#000" stroke-width="1.2"/>
<path d="M57.90 370.20 v-9.30 M57.90 22.50 v9.30 M78.86 370.20 v-4.50 M78.86 22.50 v4.50 M99.83 370.20 v-4.50 M99.83 22.50 v4.50 M120.79 370.20 v-4.50 M120.79 22.50 v4.50 M141.75 370.20 v-9.30 M141.75 22.50 v9.30 M162.71 370.20 v-4.50 M162.71 22.50 v4.50 M183.68 370.20 v-4.50 M183.68 22.50 v4.50 M204.64 370.20 v-4.50 M204.64 22.50 v4.50 M225.60 370.20 v-9.30 M225.60 22.50 v9.30 M246.56 370.20 v-4.50 M246.56 22.50 v4.50 M267.53 370.20 v-4.50 M267.53 22.50 v4.50 M288.49 370.20 v-4.50 M288.49 22.50 v4.50 M309.45 370.20 v-9.30 M309.45 22.50 v9.30 M330.41 370.20 v-4.50 M330.41 22.50 v4.50 M351.38 370.20 v-4.50 M351.38 22.50 v4.50 M372.34 370.20 v-4.50 M372.34 22.50 v4.50 M393.30 370.20 v-9.30 M393.30 22.50 v9.30 M57.90 370.20 h9.30 M393.30 370.20 h-9.30 M57.90 355.71 h4.50 M393.30 355.71 h-4.50 M57.90 341.22 h4.50 M393.30 341.22 h-4.50 M57.90 326.74 h4.50 M393.30 326.74 h-4.50 M57.90 312.25 h9.30 M393.30 312.25 h-9.30 M57.90 297.76 h4.50 M393.30 297.76 h-4.50 M57.90 283.27 h4.50 M393.30 283.27 h-4.50 M57.90 268.79 h4.50 M393.30 268.79 h-4.50 M57.90 254.30 h9.30 M393.30 254.30 h-9.30 M57.90 239.81 h4.50 M393.30 239.81 h-4.50 M57.90 225.32 h4.50 M393.30 225.32 h-4.50 M57.90 210.84 h4.50 M393.30 210.84 h-4.50 M57.90 196.35 h9.30 M393.30 196.35 h-9.30 M57.90 181.86 h4.50 M393.30 181.86 h-4.50 M57.90 167.38 h4.50 M393.30 167.38 h-4.50 M57.90 152.89 h4.50 M393.30 152.89 h-4.50 M57.90 138.40 h9.30 M393.30 138.40 h-9.30 M57.90 123.91 h4.50 M393.30 123.91 h-4.50 M57.90 109.43 h4.50 M393.30 109.43 h-4.50 M57.90 94.94 h4.50 M393.30 94.94 h-4.50 M57.90 80.45 h9.30 M393.30 80.45 h-9.30 M57.90 65.96 h4.50 M393.30 65.96 h-4.50 M57.90 51.47 h4.50 M393.30 51.47 h-4.50 M57.90 36.99 h4.50 M393.30 36.99 h-4.50 M57.90 22.50 h9.30 M393.30 22.50 h-9.30" stroke="#000" stroke-width="1.05" fill="none"/>
<g class="sans"><text x="54.10" y="387.90" textLength="7.60" lengthAdjust="spacingAndGlyphs">0</text><text x="137.95" y="387.90" textLength="7.60" lengthAdjust="spacingAndGlyphs">2</text><text x="221.80" y="387.90" textLength="7.60" lengthAdjust="spacingAndGlyphs">4</text><text x="305.65" y="387.90" textLength="7.60" lengthAdjust="spacingAndGlyphs">6</text><text x="389.50" y="387.90" textLength="7.60" lengthAdjust="spacingAndGlyphs">8</text><text x="42.00" y="375.10" textLength="7.60" lengthAdjust="spacingAndGlyphs">0</text><text x="26.00" y="317.15" textLength="23.60" lengthAdjust="spacingAndGlyphs">200</text><text x="26.00" y="259.20" textLength="23.60" lengthAdjust="spacingAndGlyphs">400</text><text x="26.00" y="201.25" textLength="23.60" lengthAdjust="spacingAndGlyphs">600</text><text x="26.00" y="143.30" textLength="23.60" lengthAdjust="spacingAndGlyphs">800</text><text x="18.00" y="85.35" textLength="31.60" lengthAdjust="spacingAndGlyphs">1000</text><text x="18.00" y="27.40" textLength="31.60" lengthAdjust="spacingAndGlyphs">1200</text></g>
<g class="ser" font-size="14.5" fill="#000">
<text x="71.00" y="43.00" textLength="12.00" lengthAdjust="spacingAndGlyphs">a)</text>
<text x="79.00" y="81.00" textLength="22.30" lengthAdjust="spacingAndGlyphs" fill="#0000ff">Leo</text><text x="109.40" y="81.00" textLength="4.00" lengthAdjust="spacingAndGlyphs" fill="#0000ff">I</text><text x="121.40" y="81.00" textLength="8.20" lengthAdjust="spacingAndGlyphs" fill="#0000ff">&#8722;</text><text x="139.50" y="81.00" textLength="23.20" lengthAdjust="spacingAndGlyphs" fill="#0000ff">M31</text>
<text x="264.00" y="110.00" textLength="22.30" lengthAdjust="spacingAndGlyphs" fill="#ff0000">Leo</text><text x="294.40" y="110.00" textLength="4.00" lengthAdjust="spacingAndGlyphs" fill="#ff0000">I</text><text x="306.40" y="110.00" textLength="8.20" lengthAdjust="spacingAndGlyphs" fill="#ff0000">&#8722;</text><text x="323.50" y="110.00" textLength="25.20" lengthAdjust="spacingAndGlyphs" fill="#ff0000">LMC</text>
<text x="125.20" y="333.30" textLength="22.30" lengthAdjust="spacingAndGlyphs" fill="#000">Leo</text><text x="155.60" y="333.30" textLength="4.00" lengthAdjust="spacingAndGlyphs" fill="#000">I</text><text x="167.60" y="333.30" textLength="8.20" lengthAdjust="spacingAndGlyphs" fill="#000">&#8722;</text><text x="185.30" y="333.30" textLength="19.20" lengthAdjust="spacingAndGlyphs" fill="#000">MW</text>
<text x="125.20" y="347.50" textLength="22.30" lengthAdjust="spacingAndGlyphs" fill="#00f000">Leo</text><text x="155.60" y="347.50" textLength="4.00" lengthAdjust="spacingAndGlyphs" fill="#00f000">I</text><text x="167.60" y="347.50" textLength="8.20" lengthAdjust="spacingAndGlyphs" fill="#00f000">&#8722;</text><text x="185.30" y="347.50" textLength="19.20" lengthAdjust="spacingAndGlyphs" fill="#00f000">MW</text>
<text x="213.00" y="347.50" textLength="28.40" lengthAdjust="spacingAndGlyphs" fill="#00f000">only</text>
<text x="259.30" y="39.80" textLength="9.10" lengthAdjust="spacingAndGlyphs">R</text><text x="268.80" y="43.90" textLength="17.30" lengthAdjust="spacingAndGlyphs" font-size="9.4" stroke="#000" stroke-width="0.25">max</text>
<text x="268.20" y="248.80" textLength="9.10" lengthAdjust="spacingAndGlyphs">R</text><text x="277.70" y="252.90" textLength="15.60" lengthAdjust="spacingAndGlyphs" font-size="9.4" stroke="#000" stroke-width="0.25">min</text>
<text x="351.80" y="278.00" textLength="9.10" lengthAdjust="spacingAndGlyphs">R</text><text x="361.30" y="282.10" textLength="10.90" lengthAdjust="spacingAndGlyphs" font-size="9.4" stroke="#000" stroke-width="0.25">vir</text>
<text x="247.10" y="328.20" textLength="8.60" lengthAdjust="spacingAndGlyphs">M</text><text x="257.00" y="332.40" textLength="15.40" lengthAdjust="spacingAndGlyphs" font-size="9.8" font-weight="bold">M31</text><text x="281.20" y="329.00" textLength="8.40" lengthAdjust="spacingAndGlyphs">=</text><text x="299.70" y="328.20" textLength="18.60" lengthAdjust="spacingAndGlyphs">1.5</text><text x="319.60" y="328.80" textLength="9.80" lengthAdjust="spacingAndGlyphs" font-size="17">&#215;</text><text x="330.40" y="328.20" textLength="14.20" lengthAdjust="spacingAndGlyphs">10</text><text x="344.90" y="324.00" textLength="8.80" lengthAdjust="spacingAndGlyphs" font-size="9.8">12</text><text x="361.20" y="328.20" textLength="9.60" lengthAdjust="spacingAndGlyphs">M</text><circle cx="375.0" cy="328.8" r="2.7" fill="none" stroke="#000" stroke-width="0.9"/><circle cx="375.0" cy="328.8" r="0.8" fill="#000"/>
<text x="247.10" y="342.40" textLength="8.60" lengthAdjust="spacingAndGlyphs">M</text><text x="257.00" y="346.60" textLength="11.90" lengthAdjust="spacingAndGlyphs" font-size="9.8" font-weight="bold">MW</text><text x="277.30" y="343.20" textLength="8.40" lengthAdjust="spacingAndGlyphs">=</text><text x="295.80" y="342.40" textLength="18.60" lengthAdjust="spacingAndGlyphs">1.5</text><text x="315.70" y="343.00" textLength="9.80" lengthAdjust="spacingAndGlyphs" font-size="17">&#215;</text><text x="326.50" y="342.40" textLength="14.20" lengthAdjust="spacingAndGlyphs">10</text><text x="341.00" y="338.20" textLength="8.80" lengthAdjust="spacingAndGlyphs" font-size="9.8">12</text><text x="357.30" y="342.40" textLength="9.60" lengthAdjust="spacingAndGlyphs">M</text><circle cx="371.1" cy="343.0" r="2.7" fill="none" stroke="#000" stroke-width="0.9"/><circle cx="371.1" cy="343.0" r="0.8" fill="#000"/>
<g stroke="#000" stroke-width="0.1">
<text x="171.80" y="405.50" textLength="32.20" lengthAdjust="spacingAndGlyphs">Time</text><text x="211.60" y="405.50" textLength="30.60" lengthAdjust="spacingAndGlyphs">(Gyr</text><text x="250.00" y="405.50" textLength="28.60" lengthAdjust="spacingAndGlyphs">ago)</text>
<g transform="translate(12.9,280.2) rotate(-90)"><text x="0.00" y="0.00" textLength="56.20" lengthAdjust="spacingAndGlyphs">Relative</text><text x="64.20" y="0.00" textLength="59.20" lengthAdjust="spacingAndGlyphs">Distance</text><text x="131.20" y="0.00" textLength="36.20" lengthAdjust="spacingAndGlyphs">(kpc)</text></g>
</g>
</g>
</svg>
</body></html>
